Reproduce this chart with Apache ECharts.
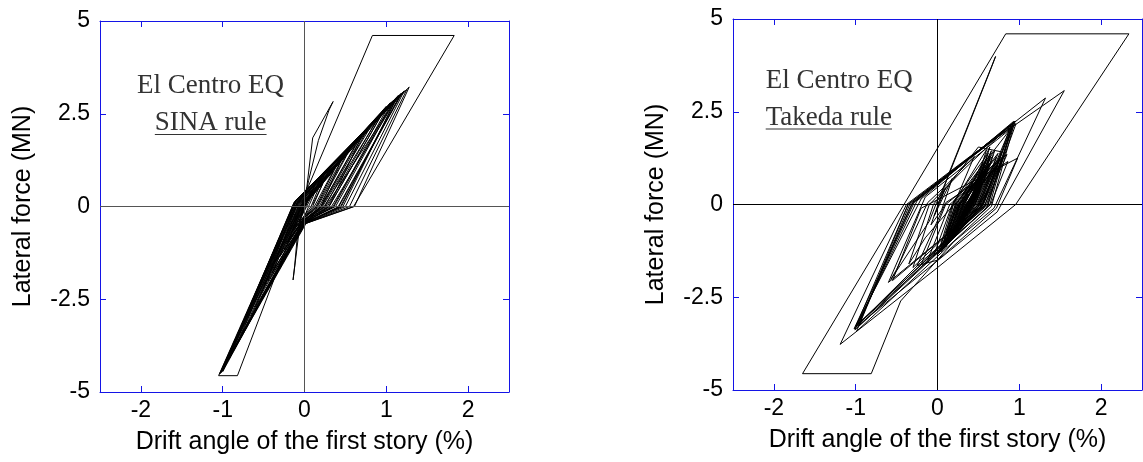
<!DOCTYPE html>
<html>
<head>
<meta charset="utf-8">
<script src="https://cdn.jsdelivr.net/npm/echarts@6/dist/echarts.min.js"></script>
<style>
  html, body { margin: 0; padding: 0; background: #fff; }
  #chart { width: 1143px; height: 462px; }
</style>
</head>
<body>
<div id="chart"></div>
<script>
// Tick positions shared by both panels
const xTicks = [-2, -1, 0, 1, 2];
const yTicks = [-5, -2.5, 0, 2.5, 5];

const xTitle = 'Drift angle of the first story (%)';
const yTitle = 'Lateral force (MN)';
const quakeName = 'El Centro EQ';
const ruleNames = ['SINA rule', 'Takeda rule'];

// Hysteresis response, SINA rule: [drift %, force MN]
const sinaLoop = [
  [0,0],[0.08,0.42],[-0.04,-0.25],[0.15,0.7],[-0.07,-0.42],[0.22,0.85],[0.06,0.05],[-0.03,-0.42],[-0.18,-0.9],
  [-0.05,-0.3],[0.03,0.55],[0.1,1.85],[0.35,2.83],[0.3,2.6],[0.17,1.78],[0.05,0.7],[-0.03,-0.2],[-0.06,-0.55],
  [-0.14,-1.98],[-0.12,-1.6],[-0.08,-0.6],
  [0.0,0.1],[0.45,1.25],[0.2,0.0],[0.01,-0.45],[-0.35,-1.45],[-0.1,0.0],[0.7,1.9],[0.3,0.0],[0.0,-0.47],
  [-0.5,-2.2],[-0.12,0.05],[0.3,1.0],[0.1,0.0],[0.0,-0.3],[-0.2,-0.95],[-0.03,0.05],[0.62,1.65],[0.2,0.0],
  [0.0,-0.36],[-0.4,-1.8],[-0.03,0.06],
  [0.02,0.4],[0.83,4.61],[1.83,4.61],[0.6,0.0],[-0.02,-0.48],[-0.12,-0.5],[-0.82,-4.56],[-1.05,-4.56],[-0.1,0.18],
  [1.28,3.22],[0.61,0.0],[0.0,-0.47],[-0.98,-4.3],[-0.13,0.1],[1.14,2.97],[0.45,0.0],[-0.01,-0.46],
  [-1.03,-4.5],[-0.11,0.12],[1.2,3.08],[0.42,0.0],[0.0,-0.45],[-1.02,-4.45],[-0.08,0.15],[1.1,2.88],
  [0.38,0.0],[-0.02,-0.44],[-0.8,-3.6],[-0.1,0.05],[1.05,2.8],[0.35,0.0],[0.0,-0.43],[-1.0,-4.4],
  [-0.09,0.08],[0.98,2.62],[0.3,0.0],[-0.01,-0.42],[-0.95,-4.2],[-0.12,0.14],[1.16,2.95],[0.4,-0.05],
  [0.0,-0.46],[-0.6,-2.7],[-0.07,0.02],[0.9,2.4],[0.28,0.0],[0.0,-0.4],[-1.01,-4.42],[-0.06,0.0],
  [1.22,3.12],[0.5,0.0],[0.02,-0.45],[-1.02,-4.48],[-0.1,0.16],[1.18,3.05],[0.44,0.0],[0.0,-0.44],
  [-0.99,-4.35],[-0.12,0.12],[1.25,3.15],[0.55,0.0],[0.01,-0.46],[-1.04,-4.52],[-0.09,0.1],[1.08,2.85],
  [0.36,0.0],[-0.01,-0.43],[-0.92,-4.1],[-0.1,0.08],[1.13,2.92],[0.33,0.0],[0.0,-0.42],[-0.85,-3.8],
  [-0.08,0.06],[1.0,2.7],[0.3,0.0],[0.0,-0.4],[-1.0,-4.45],[-0.11,0.1],[1.15,3.0],[0.26,0.0],[0.0,-0.38],
  [-0.75,-3.4],[-0.07,0.05],[0.95,2.55],[0.24,0.0],[0.0,-0.36],[-0.65,-2.95],[-0.06,0.04],[1.12,2.9],
  [0.47,0.0],[0.01,-0.44],[-0.97,-4.28],[-0.08,0.09],[0.85,2.3],[0.22,0.0],[0.0,-0.37],[-0.55,-2.45],
  [-0.05,0.03],[0.8,2.2],[0.25,0.0],[-0.01,-0.38],[-0.45,-2.0],[-0.05,0.0],[0.75,2.05],[0.21,0.0],
  [0.0,-0.35],[-0.97,-4.25],[-0.04,0.0],[0.68,1.85],[0.2,0.0],[0.0,-0.34],[-0.38,-1.72],[-0.04,0.02],
  [0.55,1.52],[0.18,0.0],[0.0,-0.3],[-0.3,-1.35],[-0.03,0.02],[0.5,1.35],[0.16,0.0],[0.0,-0.3],
  [-0.25,-1.15],[-0.02,0.04],[0.45,1.25],[0.15,0.0],[0.0,-0.28],[-0.22,-1.0],[-0.02,0.0],[0.38,1.05],
  [0.14,0.0],[0.0,-0.3],[-0.18,-0.85],[-0.01,0.02],[0.35,0.95],[0.12,0.0],[0.0,-0.25],[-0.15,-0.7],
  [0.0,0.0],[0.25,0.9],[0.08,0.0],[-0.02,-0.3],[-0.12,-0.6],[0.0,0.05],[0.22,0.6],[0.1,0.05]
];

// Hysteresis response, Takeda rule: [drift %, force MN]
const takedaLoop = [
  [0,0],[0.1,0.45],[-0.04,-0.3],[0.18,0.7],[0.05,-0.15],[-0.08,-0.55],
  [0.15,0.9],[0.71,3.99],[0.66,3.7],[0.13,0.75],[-0.02,0.0],[-0.1,-0.45],[-0.57,-2.02],[-0.5,-1.75],[-0.12,0.05],
  [0.12,0.55],[0.45,1.3],[0.2,0.0],[-0.15,-0.9],[-0.35,-1.6],[-0.1,0.0],[0.3,0.9],[0.93,2.22],[0.62,0.0],
  [-0.2,-1.55],[-1.0,-3.3],[-0.36,0.0],[0.2,0.95],[0.94,2.2],[0.66,-0.05],[-0.99,-3.42],[-0.34,0.0],
  [1.32,2.87],[0.69,-0.1],[0.2,-1.0],
  [-0.45,-2.6],[-0.81,-4.56],[-1.65,-4.56],[-0.41,0.0],[0.834,4.6],[2.34,4.6],[0.956,0.0],[0.0,-1.7],[-1.19,-3.77],
  [-0.38,0.0],[0.4,1.3],[1.55,3.07],[0.73,-0.2],[-1.02,-3.35],[-0.3,0.05],[0.92,2.18],[0.6,-0.1],
  [-0.98,-3.25],[-0.25,0.1],[0.9,2.15],[0.55,-0.05],[-0.96,-3.2],[-0.32,0.0],[0.95,2.25],[0.58,-0.02],
  [-1.0,-3.28],[-0.2,0.15],[0.93,2.24],[0.64,0.0],[-0.97,-3.3],[-0.36,0.0],[0.96,2.18],[0.6,0.0],
  [-1.01,-3.38],[-0.28,0.08],[0.91,2.12],[0.56,0.0],[-0.6,-2.1],[-0.15,0.2],[0.9,2.05],[0.55,0.0],
  [-0.55,-2.05],[-0.2,-0.1],[0.98,1.25],[0.72,-0.1],[0.0,-1.5],[-0.25,-1.65],[0.1,0.05],[0.86,1.16],
  [0.65,0.0],[-0.12,-1.5],[0.15,0.0],[0.8,1.25],[0.52,0.0],[-0.2,-1.62],[0.1,0.0],[0.85,1.35],
  [0.58,0.0],[-0.05,-1.4],[0.18,0.0],[0.88,2.0],[0.5,0.0],[-0.3,-1.7],[-0.05,0.0],[0.5,1.55],
  [0.78,1.42],[0.52,0.0],[0.02,-1.3],[0.25,0.0],[0.74,1.38],[0.5,-0.05],[0.06,-1.22],[0.28,0.02],
  [0.8,1.3],[0.55,0.0],[0.0,-1.35],[0.22,0.0],[0.7,1.45],[0.46,0.0],[0.1,-1.15],[0.3,0.0],
  [0.64,1.55],[0.42,0.0],[0.05,-1.25],[0.2,0.05],[0.6,1.48],[0.4,0.05],[0.08,-1.18],[0.24,0.08],
  [0.76,1.25],[0.53,-0.08],[0.04,-1.28],[0.24,0.05],[0.68,1.32],[0.44,0.0],[0.12,-1.05],[0.32,0.0],
  [0.66,1.45],[0.43,0.02],[0.03,-1.15],[0.2,0.1],[0.62,1.38],[0.41,0.05],[0.07,-1.08],[0.23,0.1],
  [0.79,1.18],[0.56,0.0],[0.08,-1.18],[0.27,0.03],[0.72,1.28],[0.48,-0.04],[0.15,-0.98],[0.33,0.02],
  [0.65,1.3],[0.44,0.05],[0.1,-0.98],[0.26,0.1],[0.6,1.25],[0.42,0.08],[0.13,-0.92],[0.28,0.12],
  [0.66,1.15],[0.45,0.0],[0.06,-1.1],[0.26,0.0],[0.74,1.05],[0.52,-0.06],[0.11,-1.02],[0.3,0.04],
  [0.64,1.22],[0.43,0.0],[0.17,-0.92],[0.34,0.0],[0.71,1.0],[0.5,-0.05],[0.09,-1.12],[0.28,0.02],
  [0.58,1.15],[0.4,0.1],[0.15,-0.85],[0.3,0.12],[0.63,1.1],[0.44,0.06],[0.12,-0.88],[0.29,0.08],
  [0.62,1.08],[0.42,0.0],[0.19,-0.85],[0.35,0.03],[0.69,0.95],[0.49,-0.03],[0.14,-0.95],[0.31,0.0],
  [0.6,1.0],[0.41,0.0],[0.21,-0.78],[0.36,0.02],[0.66,0.88],[0.47,-0.02],[0.18,-0.86],[0.33,0.0],
  [0.57,1.02],[0.39,0.1],[0.2,-0.72],[0.33,0.1],[0.62,0.95],[0.45,0.05],[0.17,-0.8],[0.32,0.06],
  [0.58,0.92],[0.4,0.0],[0.23,-0.7],[0.37,0.02],[0.63,0.8],[0.46,0.0],[0.2,-0.75],[0.35,0.0],
  [0.56,0.82],[0.4,0.0],[0.25,-0.6],[0.38,0.03],[0.6,0.72],[0.45,-0.02],[0.24,-0.62],[0.37,0.0],
  [0.54,0.78],[0.4,0.06],[0.26,-0.55],[0.37,0.06],[0.57,0.66],[0.43,0.04],[0.27,-0.52],[0.38,0.05],
  [0.54,0.7],[0.41,0.0],[0.28,-0.5],[0.39,0.02],[0.56,0.6],[0.43,0.0],[0.29,-0.42],[0.39,0.0],
  [0.5,0.5],[0.41,0.0],[0.32,-0.3],[0.4,0.02],[0.48,0.35],[0.41,0.0],[0.35,-0.18],[0.4,0.0]
];

const frameBlue = '#1414e6';
const sansFont = '"Liberation Sans", Arial, sans-serif';
const serifFont = '"Liberation Serif", "Times New Roman", serif';

const grids = [
  { left: 100, top: 21, width: 409, height: 371 },
  { left: 733, top: 19, width: 409, height: 371 }
];

function xAxes(gridIndex) {
  const base = {
    type: 'value', gridIndex, min: -2.5, max: 2.5,
    splitLine: { show: false },
    axisLine: { onZero: false, lineStyle: { color: frameBlue, width: 1 } },
    axisTick: { inside: true, length: 6, customValues: xTicks, lineStyle: { color: frameBlue } }
  };
  return [
    Object.assign({}, base, {
      position: 'bottom',
      name: xTitle, nameLocation: 'middle', nameGap: 38,
      nameTextStyle: { fontFamily: sansFont, fontSize: 25, color: '#000' },
      axisLabel: { customValues: xTicks, margin: 7, fontFamily: sansFont, fontSize: 23, color: '#000' }
    }),
    Object.assign({}, base, { position: 'top', axisLabel: { show: false } })
  ];
}

function yAxes(gridIndex) {
  const base = {
    type: 'value', gridIndex, min: -5, max: 5, interval: 2.5,
    splitLine: { show: false },
    axisLine: { onZero: false, lineStyle: { color: frameBlue, width: 1 } },
    axisTick: { inside: true, length: 6, lineStyle: { color: frameBlue } }
  };
  return [
    Object.assign({}, base, {
      position: 'left',
      name: yTitle, nameLocation: 'middle', nameGap: 64, nameRotate: 90,
      nameTextStyle: { fontFamily: sansFont, fontSize: 25, color: '#000' },
      axisLabel: { margin: 10, fontFamily: sansFont, fontSize: 23, color: '#000' }
    }),
    Object.assign({}, base, { position: 'right', axisLabel: { show: false } })
  ];
}

function loopSeries(data, idx, zeroColor) {
  return {
    type: 'line',
    xAxisIndex: idx * 2,
    yAxisIndex: idx * 2,
    data: data,
    showSymbol: false,
    symbol: 'none',
    animation: false,
    emphasis: { disabled: true },
    lineStyle: { color: '#000', width: 1 },
    markLine: {
      silent: true,
      symbol: 'none',
      animation: false,
      label: { show: false },
      lineStyle: { color: zeroColor, width: 1, type: 'solid' },
      data: [{ xAxis: 0 }, { yAxis: 0 }]
    }
  };
}

// Measure a label so its underline spans exactly the drawn text
const measureCtx = document.createElement('canvas').getContext('2d');
const noteFont = '27px ' + serifFont;
function textWidth(t) { measureCtx.font = noteFont; return measureCtx.measureText(t).width; }

function noteText(text, x, y, align) {
  return {
    type: 'text', x, y, silent: true,
    style: { text, font: noteFont, fill: '#333', align, textAlign: align, verticalAlign: 'middle', textVerticalAlign: 'middle' }
  };
}
function underline(text, x, y, align) {
  const w = textWidth(text);
  const x1 = align === 'center' ? x - w / 2 : x;
  return { type: 'line', silent: true, shape: { x1, y1: y, x2: x1 + w, y2: y }, style: { stroke: '#333', lineWidth: 1.2 } };
}

const chart = echarts.init(document.getElementById('chart'), null, { renderer: 'canvas' });
chart.setOption({
  animation: false,
  backgroundColor: '#fff',
  grid: grids,
  xAxis: xAxes(0).concat(xAxes(1)),
  yAxis: yAxes(0).concat(yAxes(1)),
  series: [
    loopSeries(sinaLoop, 0, '#555'),
    loopSeries(takedaLoop, 1, '#000')
  ],
  graphic: [
    noteText(quakeName, 210.5, 86, 'center'),
    noteText(ruleNames[0], 210.7, 122.5, 'center'),
    underline(ruleNames[0], 210.7, 134.5, 'center'),
    noteText(quakeName, 765.7, 81, 'left'),
    noteText(ruleNames[1], 765.7, 117.5, 'left'),
    underline(ruleNames[1], 765.7, 129, 'left')
  ]
});
</script>
</body>
</html>
